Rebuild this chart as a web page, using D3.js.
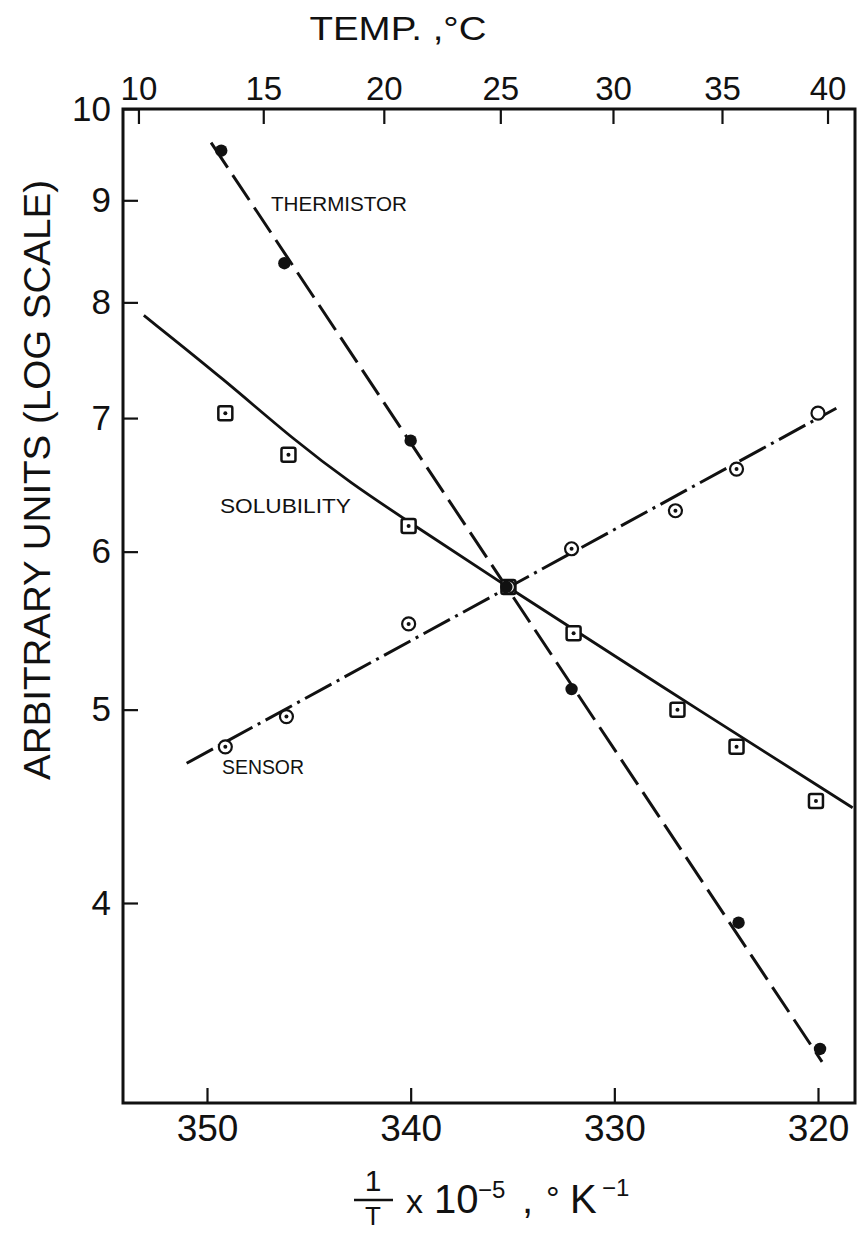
<!DOCTYPE html>
<html>
<head>
<meta charset="utf-8">
<script src="https://cdn.jsdelivr.net/npm/d3@7"></script>
<style>
  body { margin: 0; background: #fff; }
  svg { display: block; }
  text { font-family: "Liberation Sans", Arial, sans-serif; fill: #111; }
</style>
</head>
<body>
<div id="chart"></div>
<script>
// values (x in 1/T x 10^5, y in arbitrary units)
var thermistorX = [349.3, 346.2, 340.0, 335.3, 332.1, 323.9, 319.9];
var thermistorY = [9.53, 8.37, 6.82, 5.76, 5.12, 3.91, 3.38];
var thermistorFit = [[349.8, 9.62], [319.8, 3.33]];

var sensorX = [349.1, 346.1, 340.1, 335.2, 332.1, 327.0, 324.0, 320.0];
var sensorY = [4.79, 4.96, 5.52, 5.76, 6.02, 6.29, 6.60, 7.04];
var sensorOpen = [false, false, false, false, false, false, false, true];
var sensorFit = [[351.0, 4.70], [319.1, 7.08]];

var solubilityX = [349.1, 346.0, 340.1, 335.2, 332.0, 326.9, 324.0, 320.1];
var solubilityY = [7.04, 6.71, 6.18, 5.76, 5.46, 5.00, 4.79, 4.50];
var solubilityCurveX = [353.1, 349.1, 345.7, 342.9, 340.2, 335.3, 328.25, 318.3];
var solubilityCurveY = [7.88, 7.31, 6.82, 6.49, 6.22, 5.765, 5.18, 4.465];

var bottomTicks = [350, 340, 330, 320];
var topTicksC = [10, 15, 20, 25, 30, 35, 40];
var leftTicks = [4, 5, 6, 7, 8, 9, 10];

var W = 867, H = 1234;
var margin = {top: 109, right: 12, bottom: 131, left: 123};
var width = W - margin.left - margin.right,
    height = H - margin.top - margin.bottom;

var svg = d3.select("#chart").append("svg")
    .attr("width", W)
    .attr("height", H);

var g = svg.append("g")
    .attr("transform", "translate(" + margin.left + "," + margin.top + ")");

var x = d3.scaleLinear().domain([350, 320]).range([84, 695]);
var y = d3.scaleLog().domain([10, 4]).range([0, 794]);

function toInv(c) { return 1e5 / (c + 273.15); }

// axes, ticks point inward
var xAxis = d3.axisBottom(x).tickValues(bottomTicks).tickSize(-15).tickPadding(12);
var gx = g.append("g").attr("transform", "translate(0," + height + ")").call(xAxis);

var topAxis = d3.axisTop(x)
    .tickValues(topTicksC.map(toInv))
    .tickFormat(function (d) { return Math.round(1e5 / d - 273.15); })
    .tickSize(-15).tickPadding(9);
var gt = g.append("g").attr("transform", "translate(-4,0)").call(topAxis);

var yAxis = d3.axisLeft(y).tickValues(leftTicks).tickFormat(d3.format("d"))
    .tickSize(-15).tickPadding(12);
var gy = g.append("g").call(yAxis);

[gx, gt, gy].forEach(function (a) {
    a.select(".domain").remove();
    a.selectAll(".tick line").attr("stroke", "#111").attr("stroke-width", 2.2);
    a.selectAll(".tick text").attr("fill", "#111")
        .style("font-family", "'Liberation Sans', Arial, sans-serif");
});
gx.selectAll(".tick text").style("font-size", "37px");
gt.selectAll(".tick text").style("font-size", "33px");
gy.selectAll(".tick text").style("font-size", "35px");

// frame
g.append("rect")
    .attr("x", 0).attr("y", 0)
    .attr("width", width).attr("height", height)
    .attr("fill", "none").attr("stroke", "#111").attr("stroke-width", 3);

var line = d3.line()
    .x(function (d) { return x(d[0]); })
    .y(function (d) { return y(d[1]); });

// thermistor (dashed)
g.append("path")
    .datum(thermistorFit)
    .attr("d", line)
    .attr("fill", "none").attr("stroke", "#111").attr("stroke-width", 3)
    .attr("stroke-dasharray", "30,9");

// sensor (dash-dot)
g.append("path")
    .datum(sensorFit)
    .attr("d", line)
    .attr("fill", "none").attr("stroke", "#111").attr("stroke-width", 3)
    .attr("stroke-dasharray", "30,6,3,6");

// solubility (solid, smoothed curve)
var solCurve = solubilityCurveX.map(function (v, i) { return [v, solubilityCurveY[i]]; });
g.append("path")
    .datum(solCurve)
    .attr("d", d3.line()
        .x(function (d) { return x(d[0]); })
        .y(function (d) { return y(d[1]); })
        .curve(d3.curveBasis))
    .attr("fill", "none").attr("stroke", "#111").attr("stroke-width", 2.8);

// markers
var sol = solubilityX.map(function (v, i) { return [v, solubilityY[i]]; });
var sq = g.selectAll(".sq").data(sol).enter().append("g")
    .attr("class", "sq")
    .attr("transform", function (d) { return "translate(" + x(d[0]) + "," + y(d[1]) + ")"; });
sq.append("rect")
    .attr("x", -7).attr("y", -7).attr("width", 14).attr("height", 14).attr("rx", 2)
    .attr("fill", "#fff").attr("stroke", "#111").attr("stroke-width", 2.5);
sq.append("circle").attr("r", 2).attr("fill", "#111");

var sen = sensorX.map(function (v, i) { return [v, sensorY[i], sensorOpen[i]]; });
var ci = g.selectAll(".ci").data(sen).enter().append("g")
    .attr("class", "ci")
    .attr("transform", function (d) { return "translate(" + x(d[0]) + "," + y(d[1]) + ")"; });
ci.append("circle").attr("r", 6.5)
    .attr("fill", "#fff").attr("stroke", "#111").attr("stroke-width", 2.2);
ci.filter(function (d) { return !d[2]; })
    .append("circle").attr("r", 2).attr("fill", "#111");

var th = thermistorX.map(function (v, i) { return [v, thermistorY[i]]; });
g.selectAll(".dot").data(th).enter().append("circle")
    .attr("class", "dot")
    .attr("cx", function (d) { return x(d[0]); })
    .attr("cy", function (d) { return y(d[1]); })
    .attr("r", 6.2)
    .attr("fill", "#111");

// series labels
function label(txt, px, py, len) {
    svg.append("text").attr("x", px).attr("y", py)
        .attr("textLength", len).attr("lengthAdjust", "spacingAndGlyphs")
        .style("font-size", "21px").text(txt);
}
label("THERMISTOR", 271, 211, 136);
label("SOLUBILITY", 220, 513, 131);
label("SENSOR", 222, 774, 82);

// axis titles
svg.append("text")
    .attr("x", 398).attr("y", 40)
    .attr("text-anchor", "middle")
    .attr("textLength", 177).attr("lengthAdjust", "spacingAndGlyphs")
    .style("font-size", "34px")
    .text("TEMP. ,°C");

svg.append("text")
    .attr("transform", "translate(50,480) rotate(-90)")
    .attr("text-anchor", "middle")
    .attr("textLength", 600).attr("lengthAdjust", "spacingAndGlyphs")
    .style("font-size", "36px")
    .text("ARBITRARY UNITS (LOG SCALE)");

// 1/T x 10^-5, °K^-1
var bt = svg.append("g");
bt.append("text").attr("x", 373).attr("y", 1191).attr("text-anchor", "middle")
    .style("font-size", "30px").text("1");
bt.append("line").attr("x1", 354).attr("x2", 393).attr("y1", 1200).attr("y2", 1200)
    .attr("stroke", "#111").attr("stroke-width", 2.5);
bt.append("text").attr("x", 373).attr("y", 1225).attr("text-anchor", "middle")
    .style("font-size", "26px").text("T");
bt.append("text").attr("x", 406).attr("y", 1213).style("font-size", "34px").text("x");
bt.append("text").attr("x", 434).attr("y", 1213).style("font-size", "40px").text("10");
bt.append("text").attr("x", 478).attr("y", 1198).style("font-size", "24px").text("−5");
bt.append("text").attr("x", 522).attr("y", 1213).style("font-size", "40px").text(",");
bt.append("text").attr("x", 546).attr("y", 1210).style("font-size", "34px").text("°");
bt.append("text").attr("x", 570).attr("y", 1213).style("font-size", "40px").text("K");
bt.append("text").attr("x", 602).attr("y", 1196).style("font-size", "24px").text("−1");
</script>
</body>
</html>
